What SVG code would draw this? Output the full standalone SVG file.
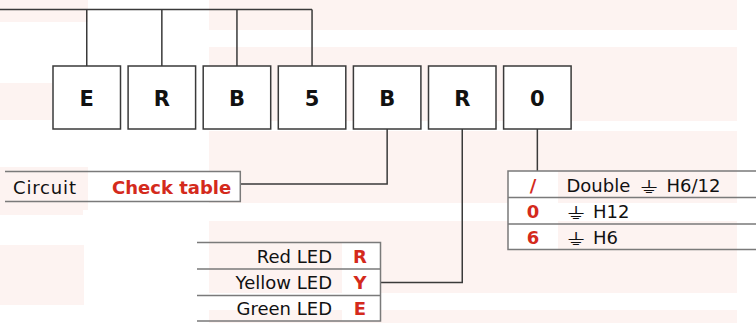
<svg xmlns="http://www.w3.org/2000/svg" width="756" height="323" viewBox="0 0 756 323">
<style>
.bg{fill:#fdf3f1}
.box{fill:#fff;stroke:#3a3a3a;stroke-width:1.5}
.lbl{font-family:"DejaVu Sans",sans-serif;font-weight:bold;font-size:21px;fill:#111;text-anchor:middle}
.wire{fill:none;stroke:#3a3a3a;stroke-width:1.5}
.tb{fill:none;stroke:#7a7a7a;stroke-width:1.5}
.cell{fill:#fff}
.t{font-family:"DejaVu Sans",sans-serif;font-size:18px;fill:#111}
.r{font-family:"DejaVu Sans",sans-serif;font-size:18px;font-weight:bold;fill:#d42a1c}
.g{font-family:"DejaVu Sans",sans-serif;font-size:17px;fill:#111}
</style>
<g id="background">
<rect class="bg" x="0" y="0" width="88" height="22"/>
<rect class="bg" x="0" y="83" width="52" height="37"/>
<rect class="bg" x="0" y="167" width="88" height="43"/>
<rect class="bg" x="0" y="210" width="83" height="5"/>
<rect class="bg" x="0" y="245" width="84" height="60"/>
<rect class="bg" x="209" y="0" width="528" height="30"/>
<rect class="bg" x="209" y="47" width="528" height="74"/>
<rect class="bg" x="209" y="131" width="528" height="72"/>
<rect class="bg" x="209" y="221" width="528" height="72"/>
<rect class="bg" x="209" y="310" width="528" height="13"/>
</g>
<g id="connectors">
<path class="wire" d="M0 9.5H312.05M86.75 9.5V66M161.85 9.5V66M236.95 9.5V66M312.05 9.5V66"/>
<path class="wire" d="M387.15 129V184H240"/>
<path class="wire" d="M462.25 129V282.5H381"/>
<path class="wire" d="M537.35 129V171"/>
</g>
<g id="node-E"><rect class="box" x="53" y="66" width="67.5" height="63"/><text class="lbl" x="86.75" y="106">E</text></g>
<g id="node-R1"><rect class="box" x="128.1" y="66" width="67.5" height="63"/><text class="lbl" x="161.85" y="106">R</text></g>
<g id="node-B1"><rect class="box" x="203.2" y="66" width="67.5" height="63"/><text class="lbl" x="236.95" y="106">B</text></g>
<g id="node-5"><rect class="box" x="278.3" y="66" width="67.5" height="63"/><text class="lbl" x="312.05" y="106">5</text></g>
<g id="node-B2"><rect class="box" x="353.4" y="66" width="67.5" height="63"/><text class="lbl" x="387.15" y="106">B</text></g>
<g id="node-R2"><rect class="box" x="428.5" y="66" width="67.5" height="63"/><text class="lbl" x="462.25" y="106">R</text></g>
<g id="node-0"><rect class="box" x="503.6" y="66" width="67.5" height="63"/><text class="lbl" x="537.35" y="106">0</text></g>
<g id="table-circuit">
<rect class="cell" x="88" y="171.5" width="152" height="30"/>
<path class="tb" d="M5 171.5H240.3V201.5H5"/>
<text class="t" x="13" y="194" textLength="63">Circuit</text>
<text class="r" x="112" y="194">Check table</text>
</g>
<g id="table-led">
<rect class="cell" x="342" y="242.5" width="39" height="78.5"/>
<path class="tb" d="M197 242.5H380.5V321H197M197 269H380.5M197 295.5H380.5"/>
<text class="t" x="332" y="262.5" text-anchor="end">Red LED</text>
<text class="t" x="332" y="289" text-anchor="end">Yellow LED</text>
<text class="t" x="332" y="315" text-anchor="end">Green LED</text>
<text class="r" x="360" y="262.5" text-anchor="middle">R</text>
<text class="r" x="360" y="289" text-anchor="middle">Y</text>
<text class="r" x="360" y="315" text-anchor="middle">E</text>
</g>
<g id="table-earth">
<rect class="cell" x="508" y="171" width="50" height="78.5"/>
<path class="tb" d="M756 171H508V249.5H756M508 197.5H756M508 224H756"/>
<text class="r" x="533" y="192" text-anchor="middle">/</text>
<text class="r" x="533" y="217.5" text-anchor="middle">0</text>
<text class="r" x="533" y="244" text-anchor="middle">6</text>
<text class="t" x="566.5" y="192">Double</text>
<text class="g" x="640" y="193" textLength="18" lengthAdjust="spacingAndGlyphs">⏚</text>
<text class="t" x="666.5" y="192">H6/12</text>
<text class="g" x="567" y="218.5" textLength="18" lengthAdjust="spacingAndGlyphs">⏚</text>
<text class="t" x="593" y="217.5">H12</text>
<text class="g" x="567" y="245" textLength="18" lengthAdjust="spacingAndGlyphs">⏚</text>
<text class="t" x="593" y="244">H6</text>
</g>
</svg>
